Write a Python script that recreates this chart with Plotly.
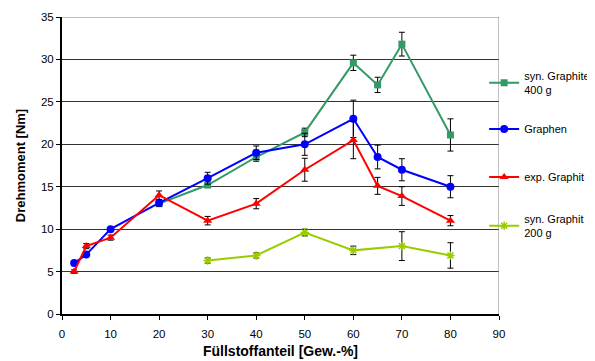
import plotly.graph_objects as go

# ---- data ----
x_green = [20, 30, 40, 50, 60, 65, 70, 80]
y_green = [13.0, 15.2, 18.5, 21.4, 29.6, 27.0, 31.8, 21.1]
e_green = [0.3, 0.3, 0.5, 0.5, 0.9, 0.9, 1.4, 1.9]

x_blue = [2.5, 5, 10, 20, 30, 40, 50, 60, 65, 70, 80]
y_blue = [6.0, 7.0, 10.0, 13.1, 16.0, 19.0, 20.0, 23.0, 18.5, 17.0, 15.0]
e_blue = [0.0, 0.0, 0.0, 0.4, 0.7, 0.8, 1.3, 2.2, 1.4, 1.3, 1.3]

x_red = [2.5, 5, 10, 20, 30, 40, 50, 60, 65, 70, 80]
y_red = [5.0, 8.0, 9.0, 14.0, 11.0, 13.0, 17.0, 20.5, 15.1, 13.9, 11.0]
e_red = [0.2, 0.3, 0.3, 0.5, 0.5, 0.6, 1.35, 2.2, 1.0, 1.1, 0.6]

x_yg = [30, 40, 50, 60, 70, 80]
y_yg = [6.3, 6.9, 9.6, 7.5, 8.0, 6.9]
e_yg = [0.3, 0.3, 0.4, 0.5, 1.7, 1.5]

names = ["syn. Graphite<br>400 g", "Graphen", "exp. Graphit", "syn. Graphit<br>200 g"]
x_ticks = list(range(0, 91, 10))
y_ticks = list(range(0, 36, 5))

FONT = "Liberation Sans, Arial, sans-serif"

fig = go.Figure()

def add(x, y, e, name, color, symbol, size, legend):
    fig.add_trace(go.Scatter(
        x=x, y=y, name=name, mode="lines+markers",
        line=dict(color=color, width=2),
        marker=dict(symbol=symbol, size=size, color=color,
                    line=dict(color=color, width=1.5 if "asterisk" in symbol else 0)),
        error_y=dict(type="data", array=e, visible=True, color="black",
                     thickness=1, width=3),
        legend=legend,
    ))

add(x_green, y_green, e_green, names[0], "#339966", "square", 7, "legend")
add(x_blue, y_blue, e_blue, names[1], "#0000FF", "circle", 8, "legend2")
add(x_red, y_red, e_red, names[2], "#FF0000", "triangle-up", 8, "legend3")
add(x_yg, y_yg, e_yg, names[3], "#99CC00", "asterisk-open", 7, "legend4")

def leg(y):
    return dict(x=0.966, xanchor="left", y=y, yanchor="middle",
                font=dict(family=FONT, size=11, color="black"),
                itemwidth=30, bgcolor="rgba(0,0,0,0)")

fig.update_layout(
    width=587, height=353,
    margin=dict(l=53.5, r=96, t=9, b=47, autoexpand=False),
    paper_bgcolor="white", plot_bgcolor="white",
    font=dict(family=FONT, size=11.5, color="black"),
    showlegend=True,
    legend=leg(0.7778),
    legend2=leg(0.6229),
    legend3=leg(0.4613),
    legend4=leg(0.2963),
    xaxis=dict(range=[0, 90], tickvals=x_ticks, ticks="outside", ticklen=4,
               tickcolor="black", showline=True, linecolor="black", linewidth=2,
               showgrid=False, zeroline=False, mirror=False, ticklabelstandoff=4,
               title=dict(text="<b>Füllstoffanteil [Gew.-%]</b>",
                          font=dict(family=FONT, size=14), standoff=7)),
    yaxis=dict(range=[0, 35], tickvals=y_ticks, ticks="outside", ticklen=4,
               tickcolor="black", showline=True, linecolor="black", linewidth=2,
               showgrid=True, gridcolor="#333333", gridwidth=1, zeroline=False,
               title=dict(text="<b>Drehmoment [Nm]</b>",
                          font=dict(family=FONT, size=13), standoff=12)),
    shapes=[
        dict(type="line", xref="x", yref="y", x0=90, x1=90, y0=0, y1=35,
             line=dict(color="#808080", width=1)),
        dict(type="line", xref="x", yref="y", x0=0, x1=90, y0=35, y1=35,
             line=dict(color="#808080", width=1)),
    ],
)

fig.write_html("out.html")
